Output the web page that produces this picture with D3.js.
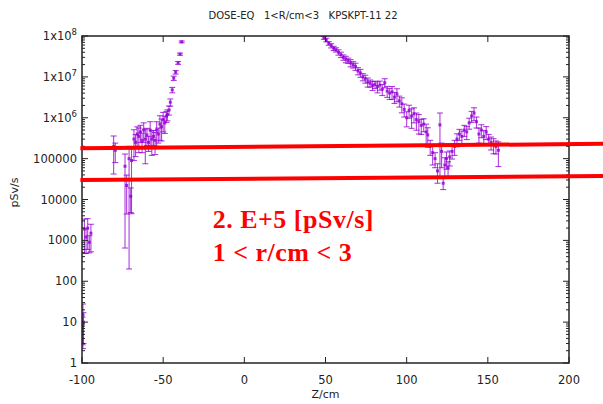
<!DOCTYPE html>
<html>
<head>
<meta charset="utf-8">
<script src="https://cdn.jsdelivr.net/npm/d3@7"></script>
<style>
  body { margin: 0; background: #fff; }
  svg { display: block; }
</style>
</head>
<body>
<svg id="chart"></svg>
<script>
// chart values
const titleText = "DOSE-EQ   1<R/cm<3   KPSKPT-11 22";
const xLabel = "Z/cm";
const yLabel = "pSv/s";
const xTicks = [-100, -50, 0, 50, 100, 150, 200];
const yTicks = [1, 10, 100, 1000, 10000, 100000, 1e6, 1e7, 1e8];
const yTickLabels = ["1", "10", "100", "1000", "10000", "100000", "1x10^6", "1x10^7", "1x10^8"];

// z position (cm), dose value, relative error
const zPos = [
  -99.7, -99.4, -99.1,
  -98.5, -97.5, -96.5, -95.5, -94.5,
  -80.5, -79.5, -73.5, -72.5, -71, -70, -69.5,
  -68, -67, -66, -65, -64, -63, -62, -61, -60, -59, -58, -57, -56, -55, -54, -53,
  -52, -51, -50, -49, -48, -47.4, -46.4, -45.6, -44.4, -43.5, -42.3, -40.8, -39.6, -38.6,
  49, 50.5, 52, 53.5, 55, 56.5, 58, 59.5, 61, 62.5, 64, 65.5, 67, 68.5, 70, 71.5, 73, 74.5,
  76, 77.5, 79, 80.5, 82, 83.5, 85, 86.5, 88, 89.5, 91, 92.5, 94, 95.5, 97, 98.5, 100, 101.5,
  103, 104.5, 106, 107.5, 109, 110.5, 112, 113, 114.5, 116, 117.5, 119, 120.5, 121.5, 122.5,
  123.5, 124.5, 125.5, 126.5, 128, 129.5, 131, 132.5, 134, 135.5, 137, 138.5, 140, 141.5,
  143, 144.5, 146, 147.5, 149, 150.5, 152, 153.5, 155, 156.5
];
const dose = [
  8, 15, 10,
  1900, 1200, 2000, 900, 1500,
  200000, 160000, 65000, 22000, 100000, 12000, 90000,
  300000, 250000, 400000, 350000, 450000, 280000, 500000, 300000, 380000, 250000, 500000, 300000, 350000, 280000, 500000, 400000,
  700000, 600000, 900000, 750000, 1.1e6, 1.2e6, 1.55e6, 2.4e6, 4.8e6, 9.3e6, 1.3e7, 2.2e7, 3.6e7, 7.2e7,
  9.0e7, 8.0e7, 6.6e7, 5.8e7, 5.0e7, 4.6e7, 4.0e7, 3.5e7, 3.0e7, 2.7e7, 2.5e7, 2.2e7, 2.0e7, 1.8e7, 1.4e7, 1.25e7, 1.0e7, 9.0e6,
  7.5e6, 7.0e6, 6.2e6, 6.5e6, 5.8e6, 6.3e6, 5.0e6, 7.2e6, 4.5e6, 4.0e6, 4.3e6, 3.2e6, 3.8e6, 2.6e6, 2.2e6, 1.6e6, 1.0e6, 1.5e6,
  1.1e6, 1.25e6, 9.0e5, 8.0e5, 6.5e5, 7.0e5, 4.5e5, 3.8e5, 2.0e5, 1.4e5, 1.0e5, 5.0e4, 6.7e5, 1.5e5, 2.5e4,
  7.0e4, 1.0e5, 6.0e4, 1.1e5, 1.5e5, 2.0e5, 3.0e5, 4.0e5, 3.5e5, 5.0e5, 4.5e5, 7.5e5, 1.1e6, 1.3e6,
  8.0e5, 4.0e5, 5.0e5, 3.5e5, 4.5e5, 3.0e5, 2.5e5, 2.2e5, 2.0e5, 1.6e5
];
const relErr = [
  0.65, 0.85, 0.7,
  0.75, 0.6, 0.7, 0.45, 0.65,
  0.79, 0.5, 0.99, 0.8, 0.998, 0.6, 0.95,
  0.7, 0.55, 0.5, 0.6, 0.45, 0.5, 0.5, 0.75, 0.45, 0.4, 0.6, 0.6, 0.4, 0.55, 0.6, 0.4,
  0.6, 0.55, 0.5, 0.45, 0.3, 0.3, 0.25, 0.2, 0.15, 0.12, 0.1, 0.08, 0.06, 0.05,
  0.08, 0.1, 0.1, 0.12, 0.12, 0.12, 0.15, 0.15, 0.15, 0.18, 0.15, 0.2, 0.18, 0.2, 0.2, 0.22, 0.2, 0.22,
  0.25, 0.2, 0.25, 0.2, 0.3, 0.25, 0.3, 0.25, 0.3, 0.3, 0.35, 0.3, 0.35, 0.3, 0.4, 0.35, 0.4, 0.35,
  0.5, 0.4, 0.45, 0.5, 0.4, 0.35, 0.55, 0.5, 0.4, 0.5, 0.4, 0.5, 0.95, 0.6, 0.3,
  0.5, 0.45, 0.4, 0.4, 0.35, 0.4, 0.35, 0.3, 0.35, 0.3, 0.35, 0.3, 0.3, 0.35,
  0.3, 0.4, 0.35, 0.4, 0.35, 0.3, 0.35, 0.4, 0.35, 0.6
];

// hand-drawn red marks on the picture, in data units
const redLines = [
  { z0: -101, v0: 1.8e5, z1: 221, v1: 2.3e5 },
  { z0: -101, v0: 3.0e4, z1: 221, v1: 3.75e4 }
];
const noteLines = ["2. E+5 [pSv/s]", "1 < r/cm < 3"];
const notePos = { z: -19.5, v: 2000 };

const width = 603, height = 404;
const margin = { top: 36, right: 34, bottom: 41, left: 82 };
const purple = "#9400d3";

const svg = d3.select("#chart")
  .attr("width", width)
  .attr("height", height)
  .style("font-family", "'DejaVu Sans', sans-serif");

const x = d3.scaleLinear()
  .domain([-100, 200])
  .range([margin.left, width - margin.right]);

const y = d3.scaleLog()
  .domain([1, 1e8])
  .range([height - margin.bottom, margin.top]);

// clip the data to the plot box
svg.append("clipPath").attr("id", "plotClip")
  .append("rect")
  .attr("x", margin.left).attr("y", margin.top)
  .attr("width", width - margin.left - margin.right)
  .attr("height", height - margin.top - margin.bottom);

const points = zPos.map((z, i) => {
  const v = dose[i];
  const dy = v * relErr[i];
  return { z: z, v: v, lo: Math.max(v - dy, 0.01), hi: v + dy };
});

const data = svg.append("g").attr("clip-path", "url(#plotClip)");

const bars = data.selectAll(".err")
  .data(points)
  .enter()
  .append("g")
  .attr("class", "err")
  .attr("stroke", purple)
  .attr("stroke-width", 1.1)
  .attr("stroke-opacity", 0.75);

bars.append("line")
  .attr("x1", d => x(d.z)).attr("x2", d => x(d.z))
  .attr("y1", d => y(d.lo)).attr("y2", d => y(d.hi));

// caps
bars.append("line")
  .attr("x1", d => x(d.z) - 3).attr("x2", d => x(d.z) + 3)
  .attr("y1", d => y(d.hi)).attr("y2", d => y(d.hi));
bars.append("line")
  .attr("x1", d => x(d.z) - 3).attr("x2", d => x(d.z) + 3)
  .attr("y1", d => y(d.lo)).attr("y2", d => y(d.lo));

data.selectAll(".pt")
  .data(points)
  .enter()
  .append("rect")
  .attr("class", "pt")
  .attr("x", d => x(d.z) - 1.5)
  .attr("y", d => y(d.v) - 1.5)
  .attr("width", 3)
  .attr("height", 3)
  .attr("fill", purple)
  .attr("fill-opacity", 0.8);

// plot border with ticks on all four sides
const axisColor = "#222";
const x0 = margin.left, x1 = width - margin.right;
const y0 = height - margin.bottom, y1 = margin.top;

const ticks = svg.append("g").attr("stroke", axisColor).attr("stroke-width", 1);

xTicks.forEach(t => {
  ticks.append("line").attr("x1", x(t)).attr("x2", x(t)).attr("y1", y0).attr("y2", y0 - 6);
  ticks.append("line").attr("x1", x(t)).attr("x2", x(t)).attr("y1", y1).attr("y2", y1 + 6);
});

y.ticks().forEach(t => {
  const major = Math.abs(Math.log10(t) - Math.round(Math.log10(t))) < 1e-9;
  const len = major ? 6 : 3;
  ticks.append("line").attr("x1", x0).attr("x2", x0 + len).attr("y1", y(t)).attr("y2", y(t));
  ticks.append("line").attr("x1", x1).attr("x2", x1 - len).attr("y1", y(t)).attr("y2", y(t));
});

svg.append("rect")
  .attr("x", x0).attr("y", y1)
  .attr("width", x1 - x0).attr("height", y0 - y1)
  .attr("fill", "none")
  .attr("stroke", axisColor)
  .attr("stroke-width", 1.5);

// tick labels
svg.append("g").selectAll("text")
  .data(xTicks)
  .enter()
  .append("text")
  .attr("x", d => x(d))
  .attr("y", y0 + 21)
  .attr("text-anchor", "middle")
  .attr("font-size", 11.5)
  .attr("fill", "#222")
  .text(d => d);

const yLab = svg.append("g").selectAll("text")
  .data(yTicks)
  .enter()
  .append("text")
  .attr("x", x0 - 5)
  .attr("y", d => y(d) + 4)
  .attr("text-anchor", "end")
  .attr("font-size", 11.5)
  .attr("fill", "#222");

yLab.each(function (d, i) {
  const parts = yTickLabels[i].split("^");
  const t = d3.select(this);
  t.append("tspan").text(parts[0]);
  if (parts[1]) {
    t.append("tspan").attr("dy", -5).attr("font-size", 8.5).text(parts[1]);
  }
});

// axis titles
svg.append("text")
  .attr("x", (x0 + x1) / 2)
  .attr("y", height - 6)
  .attr("text-anchor", "middle")
  .attr("font-size", 11)
  .attr("fill", "#222")
  .text(xLabel);

svg.append("text")
  .attr("transform", `translate(18,${(y0 + y1) / 2 - 7}) rotate(-90)`)
  .attr("text-anchor", "middle")
  .attr("font-size", 11)
  .attr("fill", "#222")
  .text(yLabel);

svg.append("text")
  .attr("x", 303)
  .attr("y", 19)
  .attr("text-anchor", "middle")
  .attr("font-size", 10)
  .attr("fill", "#222")
  .style("white-space", "pre")
  .text(titleText);

// red annotation
svg.append("g").selectAll("line")
  .data(redLines)
  .enter()
  .append("line")
  .attr("x1", d => x(d.z0)).attr("y1", d => y(d.v0))
  .attr("x2", d => x(d.z1)).attr("y2", d => y(d.v1))
  .attr("stroke", "#ff0000")
  .attr("stroke-width", 4);

svg.append("g").selectAll("text")
  .data(noteLines)
  .enter()
  .append("text")
  .attr("x", x(notePos.z))
  .attr("y", (d, i) => y(notePos.v) + i * 33)
  .attr("font-family", "'Liberation Serif', serif")
  .attr("font-weight", "bold")
  .attr("font-size", 26)
  .attr("letter-spacing", 0.5)
  .attr("fill", "#ff0000")
  .text(d => d);
</script>
</body>
</html>
